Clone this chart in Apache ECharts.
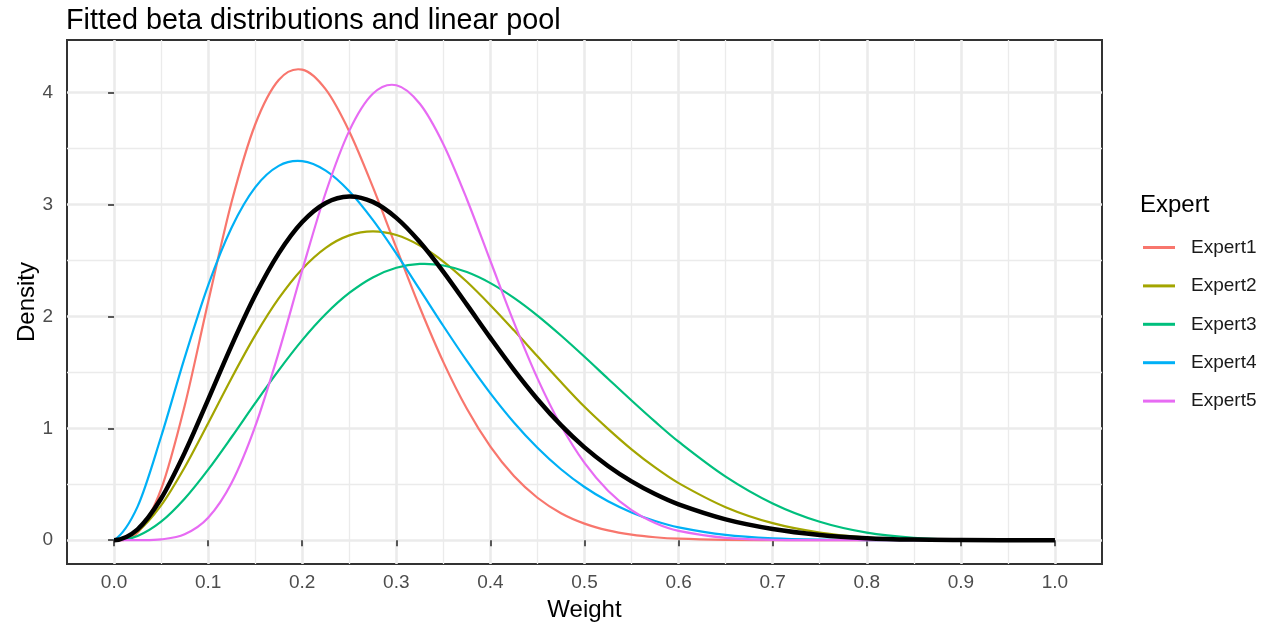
<!DOCTYPE html>
<html>
<head>
<meta charset="utf-8">
<script src="https://cdn.jsdelivr.net/npm/echarts@6/dist/echarts.min.js"></script>
<style>
  html, body { margin: 0; padding: 0; background: #ffffff; }
  #chart { width: 1270px; height: 624px; }
</style>
</head>
<body>
<div id="chart"></div>
<script>
// Weight grid on which each fitted density was evaluated
const weight = [0, 0.025, 0.05, 0.075, 0.1, 0.125, 0.15, 0.175, 0.2, 0.225, 0.25, 0.275, 0.3,
  0.325, 0.35, 0.375, 0.4, 0.425, 0.45, 0.475, 0.5, 0.525, 0.55, 0.575, 0.6,
  0.65, 0.7, 0.75, 0.8, 0.85, 0.9, 0.95, 1.0];

// Fitted beta densities for each expert
const expert1 = [0, 0.067, 0.455, 1.199, 2.128, 3.024, 3.715, 4.113, 4.205, 4.028, 3.653, 3.158, 2.614,
  2.079, 1.591, 1.174, 0.836, 0.573, 0.379, 0.241, 0.148, 0.087, 0.049, 0.026, 0.013,
  0.003, 0.0005, 0, 0, 0, 0, 0, 0];
const expert2 = [0, 0.079, 0.311, 0.650, 1.045, 1.450, 1.830, 2.160, 2.424, 2.613, 2.724, 2.760, 2.727,
  2.633, 2.490, 2.309, 2.100, 1.875, 1.643, 1.413, 1.192, 0.995, 0.812, 0.650, 0.510,
  0.295, 0.152, 0.068, 0.024, 0.006, 0.001, 0, 0];
const expert3 = [0, 0.038, 0.165, 0.370, 0.630, 0.922, 1.225, 1.518, 1.788, 2.021, 2.209, 2.348, 2.434,
  2.469, 2.455, 2.396, 2.297, 2.165, 2.007, 1.829, 1.639, 1.443, 1.248, 1.059, 0.880,
  0.568, 0.328, 0.164, 0.067, 0.020, 0.0035, 0.0002, 0];
const expert4 = [0, 0.300, 0.924, 1.629, 2.277, 2.795, 3.153, 3.345, 3.387, 3.302, 3.118, 2.862, 2.561,
  2.239, 1.914, 1.602, 1.312, 1.052, 0.826, 0.634, 0.475, 0.347, 0.248, 0.171, 0.115,
  0.047, 0.016, 0.004, 0.001, 0.0001, 0, 0, 0];
const expert5 = [0, 0.0001, 0.007, 0.052, 0.200, 0.513, 1.017, 1.678, 2.412, 3.107, 3.658, 3.989, 4.066,
  3.900, 3.539, 3.047, 2.495, 1.946, 1.446, 1.024, 0.690, 0.442, 0.268, 0.153, 0.083,
  0.020, 0.003, 0.0004, 0, 0, 0, 0, 0];

// Equal-weight linear pool of the five experts
const pool = [0, 0.097, 0.372, 0.780, 1.256, 1.741, 2.188, 2.563, 2.843, 3.014, 3.072, 3.023, 2.880,
  2.664, 2.398, 2.105, 1.808, 1.522, 1.260, 1.028, 0.829, 0.663, 0.525, 0.412, 0.320,
  0.186, 0.100, 0.047, 0.018, 0.005, 0.001, 0, 0];

const expertNames = ['Expert1', 'Expert2', 'Expert3', 'Expert4', 'Expert5'];
const expertColors = ['#F8766D', '#A3A500', '#00BF7D', '#00B0F6', '#E76BF3'];

// Axis breaks and their labels
const xTickValues = [0, 0.1, 0.2, 0.3, 0.4, 0.5, 0.6, 0.7, 0.8, 0.9, 1.0];
const xTickLabels = ['0.0', '0.1', '0.2', '0.3', '0.4', '0.5', '0.6', '0.7', '0.8', '0.9', '1.0'];
const xMinorValues = [0.05, 0.15, 0.25, 0.35, 0.45, 0.55, 0.65, 0.75, 0.85, 0.95];
const yTickValues = [0, 1, 2, 3, 4];
const yTickLabels = ['0', '1', '2', '3', '4'];
const yMinorValues = [0.5, 1.5, 2.5, 3.5];

const FONT = '"Liberation Sans", Arial, Helvetica, sans-serif';

function labelFor(values, labels) {
  return function (v) {
    for (let i = 0; i < values.length; i++) {
      if (Math.abs(values[i] - v) < 1e-9) return labels[i];
    }
    return '';
  };
}

// Draws one density curve as a cubic Hermite spline through the points,
// each point placed with the chart's own axis scales (api.coord).
function densityCurve(ys, color, width) {
  return function (params, api) {
    if (params.dataIndex !== 0) return null;
    const pts = weight.map((x, i) => api.coord([x, ys[i]]));
    const n = pts.length;
    const secant = (i, j) => (pts[j][1] - pts[i][1]) / (pts[j][0] - pts[i][0]);
    const inner = (i) => secant(i - 1, i + 1);
    const slopes = pts.map((p, i) => {
      if (i > 0 && i < n - 1) return inner(i);
      // quadratic end condition, kept on the side of the end secant
      const s = i === 0 ? secant(0, 1) : secant(n - 2, n - 1);
      const nb = i === 0 ? inner(1) : inner(n - 2);
      const d = 2 * s - nb;
      return d * s > 0 ? d : 0;
    });
    let d = 'M' + pts[0][0] + ' ' + pts[0][1];
    for (let i = 0; i < n - 1; i++) {
      const p = pts[i];
      const q = pts[i + 1];
      const h = (q[0] - p[0]) / 3;
      d += ' C' + (p[0] + h) + ' ' + (p[1] + slopes[i] * h) + ' ' +
        (q[0] - h) + ' ' + (q[1] - slopes[i + 1] * h) + ' ' + q[0] + ' ' + q[1];
    }
    return {
      type: 'path',
      shape: { pathData: d },
      style: { fill: 'none', stroke: color, lineWidth: width, lineJoin: 'round' }
    };
  };
}

const expertData = [expert1, expert2, expert3, expert4, expert5];

const series = expertNames.map((name, i) => ({
  name: name,
  type: 'custom',
  coordinateSystem: 'cartesian2d',
  data: [[weight[0], expertData[i][0]]],
  renderItem: densityCurve(expertData[i], expertColors[i], 2.2),
  itemStyle: { color: expertColors[i] },
  silent: true,
  z: 3
}));

series.push({
  name: 'Pool',
  type: 'custom',
  coordinateSystem: 'cartesian2d',
  data: [[weight[0], pool[0]]],
  renderItem: densityCurve(pool, '#000000', 4.5),
  itemStyle: { color: '#000000' },
  silent: true,
  z: 4
});

const xRange = { min: -0.05, max: 1.05 };
const yRange = { min: -0.213, max: 4.47 };

const chart = echarts.init(document.getElementById('chart'), null, { renderer: 'canvas' });

chart.setOption({
  animation: false,
  backgroundColor: '#ffffff',
  textStyle: { fontFamily: FONT },
  title: [
    {
      text: 'Fitted beta distributions and linear pool',
      left: 66,
      top: 7,
      padding: 0,
      textStyle: { fontFamily: FONT, fontSize: 28.8, fontWeight: 'normal', color: '#000000' }
    },
    {
      text: 'Expert',
      left: 1140,
      top: 193,
      padding: 0,
      textStyle: { fontFamily: FONT, fontSize: 24, fontWeight: 'normal', color: '#000000' }
    }
  ],
  legend: {
    data: expertNames,
    orient: 'vertical',
    left: 1143,
    top: 238,
    padding: 0,
    itemWidth: 32,
    itemHeight: 3,
    itemGap: 19.4,
    icon: 'rect',
    selectedMode: false,
    textStyle: {
      fontFamily: FONT,
      fontSize: 19,
      lineHeight: 19,
      color: '#1A1A1A',
      padding: [0, 0, 0, 11]
    }
  },
  grid: {
    left: 67,
    right: 168,
    top: 40,
    bottom: 60,
    outerBoundsMode: 'none',
    containLabel: false,
    show: true,
    backgroundColor: '#ffffff',
    borderColor: '#333333',
    borderWidth: 2
  },
  xAxis: [
    {
      type: 'value',
      min: xRange.min,
      max: xRange.max,
      name: 'Weight',
      nameLocation: 'middle',
      nameGap: 34,
      nameTextStyle: { fontFamily: FONT, fontSize: 24, color: '#000000' },
      axisLine: { show: false },
      axisTick: {
        show: true,
        customValues: xTickValues,
        length: 6,
        lineStyle: { color: '#333333', width: 1.6 }
      },
      axisLabel: {
        show: true,
        customValues: xTickValues,
        formatter: labelFor(xTickValues, xTickLabels),
        margin: 9,
        fontFamily: FONT,
        fontSize: 19,
        color: '#4D4D4D'
      },
      splitLine: { show: true, lineStyle: { color: '#EBEBEB', width: 2.6 } }
    },
    {
      type: 'value',
      min: xRange.min,
      max: xRange.max,
      axisLine: { show: false },
      axisTick: { show: false, customValues: xMinorValues },
      axisLabel: { show: false, customValues: xMinorValues },
      splitLine: { show: true, lineStyle: { color: '#EBEBEB', width: 1.3 } }
    }
  ],
  yAxis: [
    {
      type: 'value',
      min: yRange.min,
      max: yRange.max,
      name: 'Density',
      nameLocation: 'middle',
      nameGap: 28,
      nameMoveOverlap: false,
      nameTextStyle: { fontFamily: FONT, fontSize: 24, color: '#000000' },
      axisLine: { show: false },
      axisTick: {
        show: true,
        customValues: yTickValues,
        length: 6,
        lineStyle: { color: '#333333', width: 1.6 }
      },
      axisLabel: {
        show: true,
        customValues: yTickValues,
        formatter: labelFor(yTickValues, yTickLabels),
        margin: 14,
        fontFamily: FONT,
        fontSize: 19,
        color: '#4D4D4D'
      },
      splitLine: { show: true, lineStyle: { color: '#EBEBEB', width: 2.6 } }
    },
    {
      type: 'value',
      min: yRange.min,
      max: yRange.max,
      axisLine: { show: false },
      axisTick: { show: false, customValues: yMinorValues },
      axisLabel: { show: false, customValues: yMinorValues },
      splitLine: { show: true, lineStyle: { color: '#EBEBEB', width: 1.3 } }
    }
  ],
  series: series
});
</script>
</body>
</html>
